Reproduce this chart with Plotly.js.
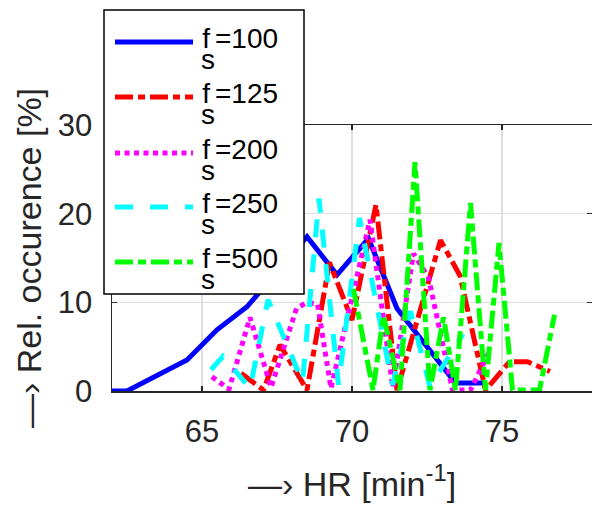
<!DOCTYPE html>
<html>
<head>
<meta charset="utf-8">
<script src="https://cdn.plot.ly/plotly-3.0.1.min.js"></script>
<style>html,body{margin:0;padding:0;background:#fff;}#chart{width:592px;height:505px;}</style>
</head>
<body>
<div id="chart"></div>
<script>
// ---- data ----
const seriesLabels = ["100", "125", "200", "250", "500"];

const hr100 = [62.0, 62.5, 64.5, 65.5, 66.5, 67.5, 68.5, 69.5, 70.55, 71.5, 72.5, 73.45, 74.4];
const occ100 = [0, 0, 3.5, 6.9, 9.5, 13.5, 17.4, 13.1, 17.2, 9.3, 5.0, 0.9, 0.9];

const hr125 = [66.3, 67.05, 67.6, 68.5, 69.25, 70.0, 70.8, 71.5, 72.95, 73.6, 74.45, 75.25, 75.85, 76.6];
const occ125 = [2.0, 0.1, 5.2, 0.1, 14.5, 8.0, 21.0, 0.1, 17.0, 13.0, 0.1, 3.3, 3.3, 2.2];

const hr200 = [65.33, 65.9, 66.6, 67.3, 68.15, 68.5, 68.85, 69.3, 70.6, 71.36, 72.05, 72.55, 73.35, 73.95, 74.6];
const occ200 = [1.6, 0.2, 8.3, 0.4, 9.3, 10.0, 9.8, 0.3, 19.3, 0.4, 15.5, 12.8, 0.1, 0.1, 4.6];

const hr250 = [65.3, 65.7, 66.6, 67.2, 68.35, 68.9, 69.55, 70.25, 71.35, 71.95, 72.6, 73.7];
const occ250 = [2.4, 3.9, 0.3, 10.3, 1.0, 21.7, 0.7, 19.5, 0.7, 9.0, 0.5, 6.4];

const hr500 = [70.05, 70.7, 71.05, 71.6, 72.1, 72.6, 73.05, 73.45, 73.95, 74.45, 74.9, 75.35, 76.25, 76.75];
const occ500 = [11.5, 0.1, 8.5, 0.1, 25.8, 0.1, 8.3, 0.1, 21.2, 0.1, 16.7, 0.1, 0.1, 8.6];

const xTicks = [65, 70, 75];
const yTicks = [0, 10, 20, 30];

// ---- styles ----
const colors = ["#0000ff", "#ff0000", "#ff00ff", "#00ffff", "#00ff00"];
const dashes = ["solid", "18px,5px,7px,5px", "5px,4.5px", "18px,17px", "18px,5px,8px,5px"];
const lw = 5;

const xs = [hr100, hr125, hr200, hr250, hr500];
const ys = [occ100, occ125, occ200, occ250, occ500];
const names = seriesLabels.map(v =>
  '<span style="letter-spacing:-9px">f</span><span style="baseline-shift:-21px">s</span>=' + v);

const traces = xs.map((x, i) => ({
  type: "scatter", mode: "lines", x: x, y: ys[i], name: "fs=" + seriesLabels[i],
  line: {color: colors[i], width: lw, dash: dashes[i]},
  showlegend: false, hoverinfo: "skip"
}));

const FONT = "Liberation Sans, Arial, Helvetica, sans-serif";
const axisCol = "#262626";

// manual legend (matching long line samples of reference)
const L = 112, W = 480, B = 391, H = 266;
const px = v => (v - L) / W;
const py = v => (B - v) / H;
const rowY = [42, 97, 153, 207, 262];

const shapes = [{
  type: "rect", xref: "paper", yref: "paper", layer: "above",
  x0: px(104), x1: px(304), y0: py(294), y1: py(10),
  fillcolor: "#ffffff", line: {color: "#000000", width: 1.5}
}];
const annotations = [];
rowY.forEach((r, i) => {
  shapes.push({type: "line", xref: "paper", yref: "paper", layer: "above",
    x0: px(115), x1: px(193), y0: py(r), y1: py(r),
    line: {color: colors[i], width: lw, dash: dashes[i]}});
  annotations.push({xref: "paper", yref: "paper", x: px(199), y: py(r + 7),
    xanchor: "left", yanchor: "middle", showarrow: false, text: names[i],
    font: {family: FONT, size: 28, color: "#000000"}});
});

const layout = {
  width: 592, height: 505,
  margin: {l: 112, r: 0, t: 125, b: 114},
  paper_bgcolor: "#ffffff", plot_bgcolor: "#ffffff",
  showlegend: false,
  xaxis: {
    range: [62, 78], tickvals: xTicks, ticktext: xTicks.map(String),
    ticks: "inside", ticklen: 5, tickwidth: 1.5, tickcolor: axisCol,
    showline: true, linecolor: axisCol, linewidth: 1.5, mirror: "ticks",
    showgrid: true, gridcolor: "#dfdfdf", gridwidth: 1.5, zeroline: false,
    tickfont: {family: FONT, size: 31, color: axisCol},
    ticklabelstandoff: 12,
    automargin: false,
    title: {text: "—› HR [min<sup>-1</sup>]", font: {family: FONT, size: 34, color: axisCol}, standoff: 24}
  },
  yaxis: {
    range: [0, 30], tickvals: yTicks, ticktext: yTicks.map(String),
    ticks: "inside", ticklen: 5, tickwidth: 1.5, tickcolor: axisCol,
    showline: true, linecolor: axisCol, linewidth: 1.5, mirror: "ticks",
    showgrid: true, gridcolor: "#dfdfdf", gridwidth: 1.5, zeroline: false,
    tickfont: {family: FONT, size: 31, color: axisCol},
    ticklabelstandoff: 12,
    automargin: false,
    title: {text: "—› Rel. occurence [%]", font: {family: FONT, size: 34, color: axisCol}, standoff: 6}
  },
  shapes: shapes,
  annotations: annotations
};

Plotly.newPlot("chart", traces, layout, {displayModeBar: false, staticPlot: true});
</script>
</body>
</html>
